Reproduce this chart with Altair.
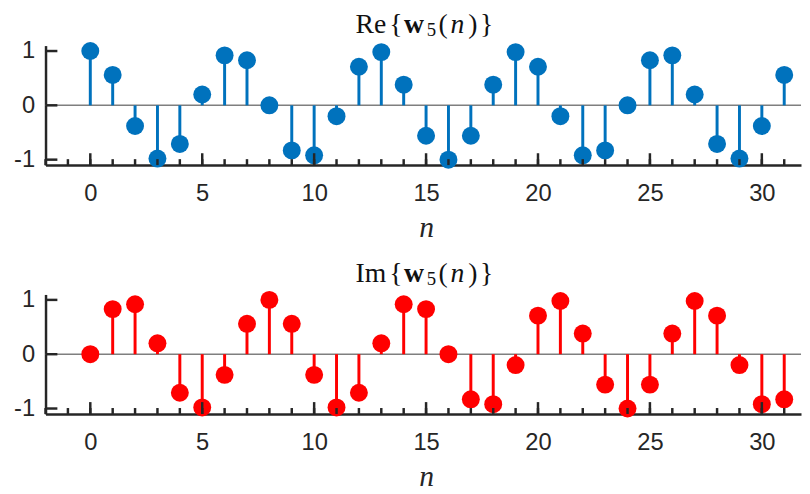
import altair as alt
import pandas as pd

# ---- data ----
n_values = list(range(32))
re_values = [1.00, 0.56, -0.38, -0.98, -0.71, 0.20, 0.92, 0.83, 0.00, -0.83,
             -0.92, -0.20, 0.71, 0.98, 0.38, -0.56, -1.00, -0.56, 0.38, 0.98,
             0.71, -0.20, -0.92, -0.83, 0.00, 0.83, 0.92, 0.20, -0.71, -0.98,
             -0.38, 0.56]
im_values = [0.00, 0.83, 0.92, 0.20, -0.71, -0.98, -0.38, 0.56, 1.00, 0.56,
             -0.38, -0.98, -0.71, 0.20, 0.92, 0.83, 0.00, -0.83, -0.92, -0.20,
             0.71, 0.98, 0.38, -0.56, -1.00, -0.56, 0.38, 0.98, 0.71, -0.20,
             -0.92, -0.83]
x_major_ticks = [0, 5, 10, 15, 20, 25, 30]
x_minor_ticks = list(range(-2, 32))
y_ticks = [-1, 0, 1]
x_domain = [-2, 31.75]
y_domain = [-1.1, 1.1]
re_title = ["Re", "{", "w", "5", "(", "n", ")", "}"]
im_title = ["Im", "{", "w", "5", "(", "n", ")", "}"]
x_title = "n"

# ---- style ----
W, H = 765, 121
AX = "#262626"
SERIF = "Liberation Serif"
SANS = "Liberation Sans"
xs = alt.Scale(domain=x_domain, nice=False, zero=False)
ys = alt.Scale(domain=y_domain, nice=False, zero=False)
one = pd.DataFrame({"a": [0]})

x_axis = alt.Axis(values=x_major_ticks, ticks=False, tickSize=0, grid=False,
                  domainColor=AX, domainWidth=2.5, labelFont=SANS,
                  labelFontSize=24, labelColor=AX, labelPadding=17,
                  labelFlush=False, labelOverlap=False,
                  labelExpr="'' + datum.value", title=None)
y_axis = alt.Axis(values=y_ticks, ticks=False, tickSize=0, grid=False,
                  domainColor=AX, domainWidth=2.5, labelFont=SANS,
                  labelFontSize=24, labelColor=AX, labelPadding=11,
                  labelFlush=False, labelOverlap=False,
                  labelExpr="'' + datum.value", title=None)

TS = 28
TY = -13
piece_style = [
    dict(dx=314, size=TS, weight="normal", style="normal", dy=TY),
    dict(dx=348, size=TS, weight="normal", style="normal", dy=TY),
    dict(dx=363, size=TS, weight="bold", style="normal", dy=TY),
    dict(dx=386, size=19, weight="normal", style="normal", dy=TY + 3),
    dict(dx=398, size=TS, weight="normal", style="normal", dy=TY),
    dict(dx=410, size=TS, weight="normal", style="italic", dy=TY),
    dict(dx=428, size=TS, weight="normal", style="normal", dy=TY),
    dict(dx=440, size=TS, weight="normal", style="normal", dy=TY),
]


def panel(values, color, title_pieces):
    df = pd.DataFrame({"n": n_values, "v": values})

    baseline = alt.Chart(pd.DataFrame({"z": [0]})).mark_rule(
        color="#7f7f7f", strokeWidth=1.5
    ).encode(
        y=alt.Y("z:Q", scale=ys, axis=y_axis),
        x=alt.value(0), x2=alt.value(W),
    )

    stems = alt.Chart(df).mark_rule(color=color, strokeWidth=3).encode(
        x=alt.X("n:Q", scale=xs, axis=x_axis),
        y=alt.Y("v:Q", scale=ys, axis=y_axis),
        y2=alt.datum(0),
    )

    points = alt.Chart(df).mark_circle(size=330, opacity=1, color=color).encode(
        x=alt.X("n:Q", scale=xs, axis=x_axis),
        y=alt.Y("v:Q", scale=ys, axis=y_axis),
    )

    xt_major = alt.Chart(pd.DataFrame({"t": x_major_ticks})).mark_rule(
        color=AX, strokeWidth=2.5
    ).encode(x=alt.X("t:Q", scale=xs, axis=x_axis),
             y=alt.value(H), y2=alt.value(H - 12))

    xt_minor = alt.Chart(pd.DataFrame({"t": x_minor_ticks})).mark_rule(
        color=AX, strokeWidth=2.5
    ).encode(x=alt.X("t:Q", scale=xs, axis=x_axis),
             y=alt.value(H), y2=alt.value(H - 6))

    yt = alt.Chart(pd.DataFrame({"t": y_ticks})).mark_rule(
        color=AX, strokeWidth=2.5
    ).encode(y=alt.Y("t:Q", scale=ys, axis=y_axis),
             x=alt.value(0), x2=alt.value(12))

    layers = [baseline, stems, points, xt_minor, xt_major, yt]

    for txt, st in zip(title_pieces, piece_style):
        layers.append(
            alt.Chart(one).mark_text(
                text=txt, font=SERIF, fontSize=st["size"],
                fontWeight=st["weight"], fontStyle=st["style"],
                align="left", baseline="alphabetic", color="#111111",
            ).encode(x=alt.value(st["dx"]), y=alt.value(st["dy"]))
        )

    layers.append(
        alt.Chart(one).mark_text(
            text=x_title, font=SERIF, fontSize=30, fontStyle="italic",
            align="center", baseline="alphabetic", color=AX,
        ).encode(x=alt.value(386), y=alt.value(H + 73))
    )

    return alt.layer(*layers).properties(width=W, height=H)


top = panel(re_values, "#0072BD", re_title)
bottom = panel(im_values, "#FF0000", im_title)

chart = alt.vconcat(top, bottom, spacing=17).properties(
    padding={"left": 5, "top": 0, "right": 0, "bottom": 0}
).configure_view(stroke=None)

chart.save("out.html", embed_options={"renderer": "svg", "actions": False})
